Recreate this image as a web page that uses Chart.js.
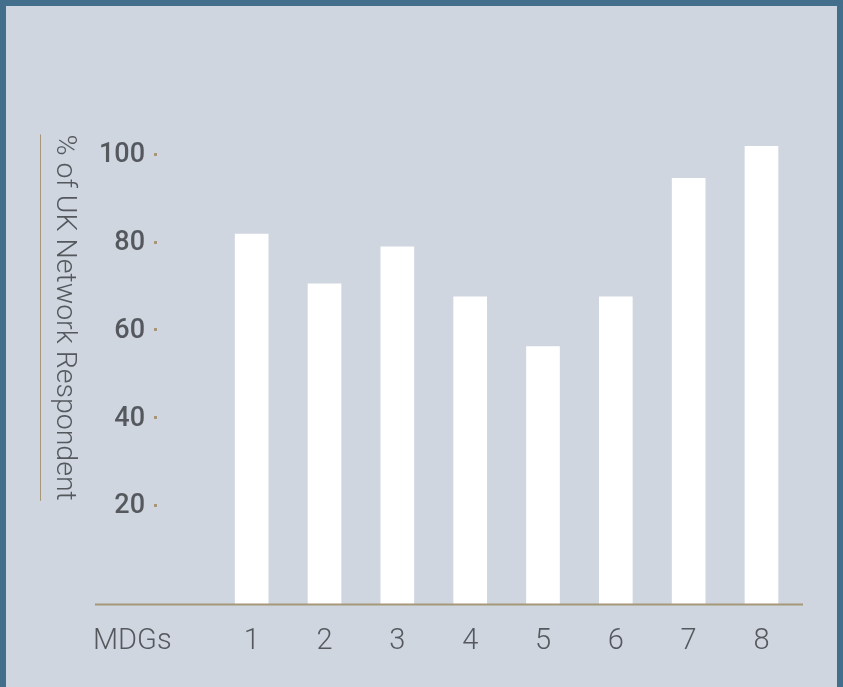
<!DOCTYPE html>
<html>
<head>
<meta charset="utf-8">
<script src="https://cdn.jsdelivr.net/npm/chart.js@4"></script>
<style>
  body { margin: 0; background: #436e8c; }
  .panel {
    position: absolute;
    left: 6px; top: 6px;
    width: 831px; height: 681px;
    background: #cfd6e0;
  }
</style>
</head>
<body>
<div class="panel">
  <canvas id="chart" width="831" height="681"></canvas>
</div>
<script>
const categories = ['1', '2', '3', '4', '5', '6', '7', '8']
const values = [81.8, 70.5, 78.9, 67.5, 56.2, 67.5, 94.5, 101.8]
const yTicks = [20, 40, 60, 80, 100]
const xTitle = 'MDGs'
const yTitle = '% of UK Network Respondent'

const textColor = '#55595e'
const tan = '#a69779'
const lightFont = 'Roboto, "Liberation Sans", sans-serif'

/* baseline, MDGs label and the rotated y title with its rule */
const decor = {
  id: 'decor',
  afterDatasetsDraw(chart) {
    const { ctx, chartArea, scales } = chart
    const y0 = chartArea.bottom + 0.5
    const startX = chartArea.left - 62

    ctx.save()
    ctx.strokeStyle = tan
    ctx.lineWidth = 2
    ctx.beginPath()
    ctx.moveTo(startX, y0)
    ctx.lineTo(chartArea.right, y0)
    ctx.stroke()

    // x title sits in the tick row
    ctx.fillStyle = textColor
    ctx.font = '300 29px ' + lightFont
    ctx.textAlign = 'left'
    ctx.textBaseline = 'middle'
    ctx.fillText(xTitle, startX - 2, scales.x.top + 20 + 29 * 1.2 / 2)

    // y title, reading downwards
    const cy = (chartArea.top + chartArea.bottom) / 2
    ctx.font = '300 28.5px ' + lightFont
    const w = ctx.measureText(yTitle).width
    ctx.translate(51, cy)
    ctx.rotate(Math.PI / 2)
    ctx.textAlign = 'center'
    ctx.textBaseline = 'alphabetic'
    ctx.fillText(yTitle, 0, 0)
    ctx.restore()

    ctx.save()
    ctx.strokeStyle = tan
    ctx.lineWidth = 1
    ctx.beginPath()
    ctx.moveTo(34.5, cy - w / 2)
    ctx.lineTo(34.5, cy + w / 2)
    ctx.stroke()
    ctx.restore()
  }
}

const ctx = document.getElementById('chart').getContext('2d')
new Chart(ctx, {
  type: 'bar',
  data: {
    datasets: [{
      data: values.map((v, i) => ({ x: i + 1, y: v })),
      backgroundColor: '#ffffff',
      borderWidth: 0,
      barThickness: 33,
      base: -2.4
    }]
  },
  options: {
    responsive: false,
    animation: false,
    layout: { padding: { top: 24, right: 34, left: 0, bottom: 0 } },
    plugins: {
      legend: { display: false },
      tooltip: { enabled: false }
    },
    scales: {
      x: {
        type: 'linear',
        offset: false,
        min: -0.3,
        max: 8.57,
        afterBuildTicks: axis => {
          axis.ticks = categories.map((c, i) => ({ value: i + 1 }))
        },
        afterFit: axis => { axis.height = 83 },
        grid: { display: false, drawTicks: false },
        border: { display: false },
        ticks: {
          autoSkip: false,
          maxRotation: 0,
          padding: 20,
          color: textColor,
          font: { family: lightFont, size: 29, weight: '300' },
          callback: value => categories[value - 1]
        }
      },
      y: {
        min: -2.4,
        max: 128,
        afterBuildTicks: axis => {
          axis.ticks = yTicks.map(v => ({ value: v }))
        },
        afterFit: axis => { axis.width = 151 },
        grid: {
          display: true,
          drawOnChartArea: false,
          drawTicks: true,
          tickLength: 3,
          tickWidth: 3,
          tickColor: tan
        },
        border: { display: false },
        ticks: {
          padding: 9,
          labelOffset: 1,
          color: textColor,
          font: { family: lightFont, size: 27, weight: '500' }
        }
      }
    }
  },
  plugins: [decor]
})
</script>
</body>
</html>
